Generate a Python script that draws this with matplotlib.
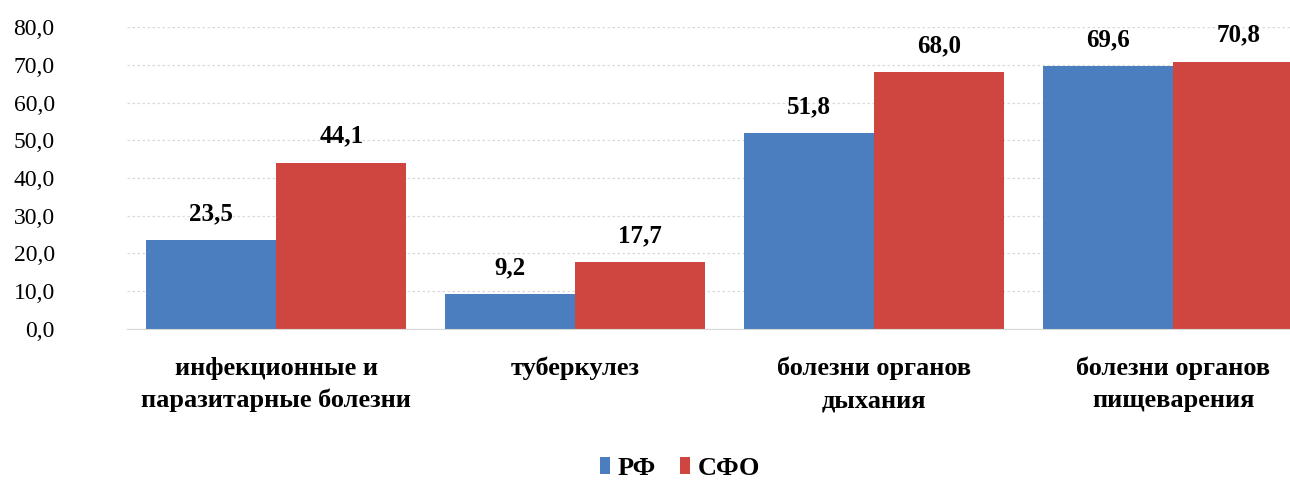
import numpy as np
import matplotlib
matplotlib.use('Agg')
import matplotlib.pyplot as plt

categories = ['инфекционные и\nпаразитарные болезни', 'туберкулез',
              'болезни органов\nдыхания', 'болезни органов\nпищеварения']
rf_values = [23.5, 9.2, 51.8, 69.6]
sfo_values = [44.1, 17.7, 68.0, 70.8]
series_names = ['РФ', 'СФО']
yticks = np.arange(0, 81, 10)

plt.rcParams['font.family'] = ['Liberation Serif', 'DejaVu Serif']

blue = '#4a7ebf'
red = '#cf4641'

fig = plt.figure(figsize=(12.9, 4.83), dpi=100)
ax = fig.add_axes([0.0984, 0.319, 0.927, 0.625])

x = np.arange(len(categories))
w = 0.435
b1 = ax.bar(x - w / 2, rf_values, w, color=blue, label=series_names[0])
b2 = ax.bar(x + w / 2, sfo_values, w, color=red, label=series_names[1])

for bars, vals in ((b1, rf_values), (b2, sfo_values)):
    for rect, v in zip(bars, vals):
        ax.annotate(f'{v:.1f}'.replace('.', ','),
                    (rect.get_x() + rect.get_width() / 2, v),
                    xytext=(0, 11), textcoords='offset points',
                    ha='center', va='bottom', fontsize=18, fontweight='bold')

ax.set_xlim(-0.5, 3.5)
ax.set_ylim(0, 80)
ax.set_yticks(yticks)
ax.set_yticklabels([f'{t:.1f}'.replace('.', ',') for t in yticks], fontsize=17)
ax.set_xticks(x)
ax.set_xticklabels(categories, fontsize=19, fontweight='bold', linespacing=1.5)
ax.tick_params(axis='y', length=0, pad=52)
ax.tick_params(axis='x', length=0, pad=20)

ax.grid(axis='y', linestyle=(0, (2, 2)), color='#d9d9d9', linewidth=0.9)
ax.set_axisbelow(True)
for side in ('top', 'right', 'left'):
    ax.spines[side].set_visible(False)
ax.spines['bottom'].set_color('#d9d9d9')

fig.legend(handles=[b1, b2], loc='center', bbox_to_anchor=(0.527, 0.03),
           ncol=2, frameon=False, prop={'weight': 'bold', 'size': 19},
           handlelength=0.38, handleheight=0.6, handletextpad=0.3, columnspacing=0.9)

fig.savefig('out.png', dpi=100)
